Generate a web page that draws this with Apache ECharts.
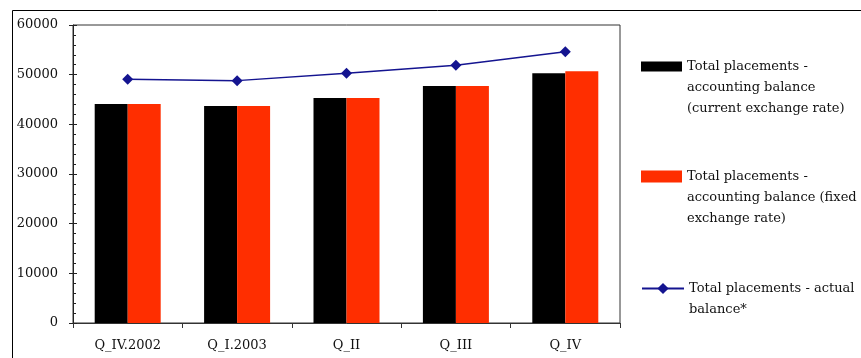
<!DOCTYPE html>
<html>
<head>
<meta charset="utf-8">
<script src="https://cdn.jsdelivr.net/npm/echarts@6/dist/echarts.min.js"></script>
<style>
  html, body { margin: 0; padding: 0; background: #fff; }
  #chart { width: 861px; height: 358px; }
</style>
</head>
<body>
<div id="chart"></div>
<script>
// Quarterly categories
const categories = ['Q_IV.2002', 'Q_I.2003', 'Q_II', 'Q_III', 'Q_IV'];

// Series values
const currentRate = [44100, 43700, 45300, 47700, 50300];
const fixedRate   = [44100, 43700, 45300, 47700, 50700];
const actualBal   = [49100, 48800, 50300, 51900, 54600];

// Series names (multi-line, as shown in the legend)
const nameCurrent = 'Total placements -\naccounting balance\n(current exchange rate)';
const nameFixed   = 'Total placements -\naccounting balance (fixed\nexchange rate)';
const nameActual  = 'Total placements - actual\nbalance*';

const FONT = 'DejaVu Serif';
const TXT = '#111';

// Each legend entry is its own component so the icon can sit beside the
// first text line: blank lines are prepended so that line lands at the
// vertical centre of the (centred) text block.
function legendAt(top, name, w, h, icon) {
  const lines = name.split('\n').length;
  const pre = '\n'.repeat(lines - 1);
  const lg = {
    left: 641, top: top, padding: 0,
    orient: 'vertical',
    itemWidth: w, itemHeight: h,
    data: [name],
    selectedMode: false,
    formatter: n => pre + n,
    textStyle: { fontFamily: FONT, fontSize: 13, color: TXT, lineHeight: 21 }
  };
  if (icon) lg.icon = icon;
  return lg;
}

const chart = echarts.init(document.getElementById('chart'), null, { renderer: 'canvas' });

chart.setOption({
  animation: false,
  backgroundColor: '#fff',
  graphic: [{
    type: 'rect', z: -10,
    shape: { x: 12.5, y: 10.5, width: 900, height: 400 },
    style: { fill: 'none', stroke: '#000', lineWidth: 1 }
  }],
  grid: {
    left: 73, top: 25, right: 241, bottom: 35,
    show: true, borderColor: '#333', borderWidth: 1, backgroundColor: 'transparent'
  },
  legend: [
    legendAt(14, nameCurrent, 41, 10, 'rect'),
    legendAt(124, nameFixed, 41, 12, 'rect'),
    legendAt(257, nameActual, 42, 14)
  ],
  xAxis: {
    type: 'category',
    data: categories,
    boundaryGap: true,
    axisLine: { lineStyle: { color: '#333', width: 1 } },
    axisTick: { show: true, inside: false, length: 5, lineStyle: { color: '#333' } },
    axisLabel: { fontFamily: FONT, fontSize: 13, color: TXT, margin: 16 },
    splitLine: { show: false }
  },
  yAxis: [{
    type: 'value',
    min: 0, max: 60000, interval: 10000,
    axisLine: { show: true, lineStyle: { color: '#222', width: 1 } },
    axisTick: { show: true, inside: true, length: 4, lineStyle: { color: '#222' } },
    minorTick: { show: true, splitNumber: 5, length: 3, lineStyle: { color: '#222' } },
    axisLabel: { fontFamily: FONT, fontSize: 13, color: TXT, margin: 15, formatter: v => String(v) },
    splitLine: { show: false }
  }, {
    // outward half of the major ticks
    type: 'value', position: 'left', offset: 0,
    min: 0, max: 60000, interval: 10000,
    axisLine: { show: false },
    axisTick: { show: true, inside: false, length: 4, lineStyle: { color: '#222' } },
    axisLabel: { show: false },
    splitLine: { show: false }
  }],
  series: [{
    name: nameCurrent, type: 'bar',
    data: currentRate,
    barWidth: 33, barGap: '0%',
    itemStyle: { color: '#000000' }
  }, {
    name: nameFixed, type: 'bar',
    data: fixedRate,
    barWidth: 33, barGap: '0%',
    itemStyle: { color: '#ff2e00' }
  }, {
    name: nameActual, type: 'line',
    data: actualBal,
    symbol: 'diamond', symbolSize: 11,
    lineStyle: { color: '#141490', width: 1.5 },
    itemStyle: { color: '#141490' }
  }]
});
</script>
</body>
</html>
